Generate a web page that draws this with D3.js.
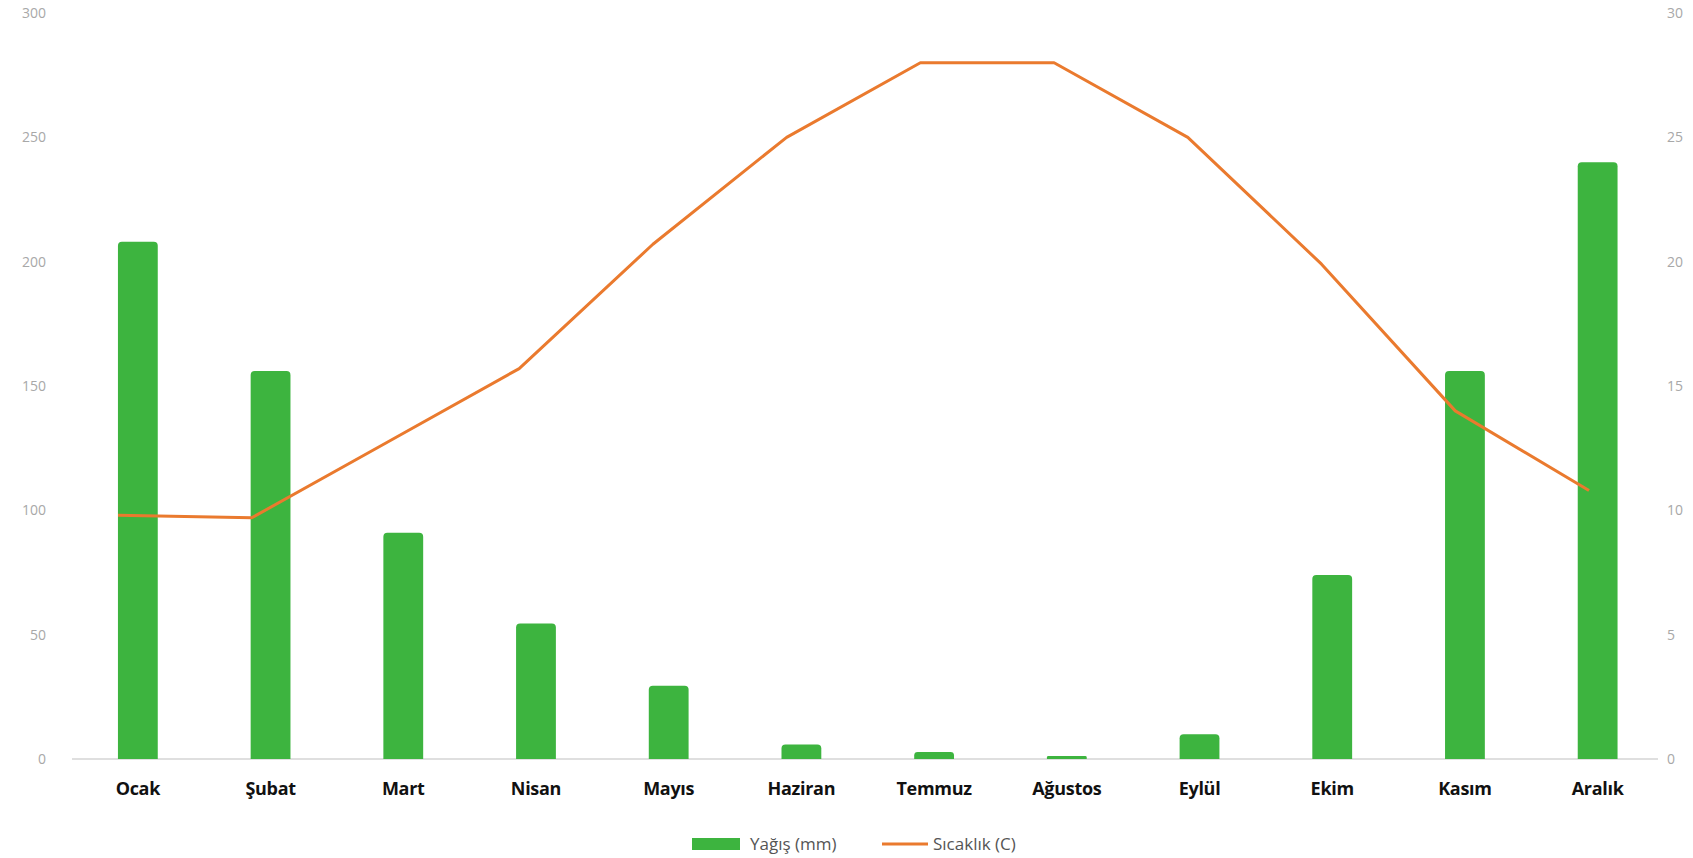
<!DOCTYPE html>
<html>
<head>
  <meta charset="UTF-8">
  <style>
body {
    margin: 0;
    background: #fff;
}
svg {
    display: block;
    font-family: 'Open Sans', sans-serif;
}
.tick-left text, .tick-right text {
    fill: #a8a8a8;
    font-size: 14px;
}
.month {
    font-weight: 700;
    font-size: 18px;
    fill: #111;
    letter-spacing: -0.3px;
}
.legend text {
    font-size: 17px;
    fill: #555;
}
  </style>
</head>
<body>
<svg id="chart"></svg>

<script src="https://d3js.org/d3.v7.min.js"></script>
<script>

let width = 1693, height = 858;

// data
let months = ["Ocak", "Şubat", "Mart", "Nisan", "Mayıs", "Haziran", "Temmuz", "Ağustos", "Eylül", "Ekim", "Kasım", "Aralık"];
let rain = [208, 156, 91, 54.5, 29.5, 5.8, 2.8, 1.2, 10, 74, 156, 240];
let temp = [9.8, 9.7, 12.7, 15.7, 20.7, 25, 28, 28, 25, 19.9, 14, 10.8];
let leftTicks = [0, 50, 100, 150, 200, 250, 300];
let rightTicks = [0, 5, 10, 15, 20, 25, 30];

let green = "#3db43f", orange = "#ea7a2e";

let svg = d3.select("#chart")
    .attr("width", width)
    .attr("height", height);

// scales
let x = d3.scaleBand()
    .domain(months)
    .range([71.5, 1664])
    .padding(0);

// the line in the original sits a little left of the bar centres
let xLine = d3.scalePoint()
    .domain(months)
    .range([118, 1589]);

let yLeft = d3.scaleLinear().domain([0, 300]).range([759, 13]);
let yRight = d3.scaleLinear().domain([0, 30]).range([759, 13]);

// left tick labels
svg.append("g")
    .attr("class", "tick-left")
    .selectAll("text")
    .data(leftTicks)
    .enter()
    .append("text")
    .attr("x", 46)
    .attr("y", d => yLeft(d))
    .attr("dy", "0.35em")
    .attr("text-anchor", "end")
    .text(d => d);

// right tick labels
svg.append("g")
    .attr("class", "tick-right")
    .selectAll("text")
    .data(rightTicks)
    .enter()
    .append("text")
    .attr("x", 1667)
    .attr("y", d => yRight(d))
    .attr("dy", "0.35em")
    .attr("text-anchor", "start")
    .text(d => d);

// baseline
svg.append("line")
    .attr("x1", 72)
    .attr("x2", 1658)
    .attr("y1", yLeft(0))
    .attr("y2", yLeft(0))
    .style("stroke", "#d4d4d4")
    .style("stroke-width", 1.5);

// bars with rounded tops
let barW = x.bandwidth() * 0.3;
function barPath(d, i) {
    let cx = x(months[i]) + x.bandwidth() / 2;
    let x0 = cx - barW / 2, x1 = cx + barW / 2;
    let y0 = yLeft(0), y1 = yLeft(d);
    let r = Math.min(4, (y0 - y1) / 2);
    return "M" + x0 + "," + y0 +
        "V" + (y1 + r) +
        "Q" + x0 + "," + y1 + " " + (x0 + r) + "," + y1 +
        "H" + (x1 - r) +
        "Q" + x1 + "," + y1 + " " + x1 + "," + (y1 + r) +
        "V" + y0 + "Z";
}

svg.append("g")
    .selectAll("path")
    .data(rain)
    .enter()
    .append("path")
    .attr("d", barPath)
    .style("fill", green);

// temperature line
let line = d3.line()
    .x((d, i) => xLine(months[i]))
    .y(d => yRight(d));

svg.append("path")
    .datum(temp)
    .attr("d", line)
    .style("fill", "none")
    .style("stroke", orange)
    .style("stroke-width", 3)
    .style("stroke-linejoin", "round");

// month labels
svg.append("g")
    .selectAll("text")
    .data(months)
    .enter()
    .append("text")
    .attr("class", "month")
    .attr("x", d => x(d) + x.bandwidth() / 2)
    .attr("y", 789)
    .attr("dy", "0.35em")
    .attr("text-anchor", "middle")
    .text(d => d);

// legend
let legend = svg.append("g").attr("class", "legend");

legend.append("rect")
    .attr("x", 692)
    .attr("y", 838)
    .attr("width", 48)
    .attr("height", 12)
    .style("fill", green);

legend.append("text")
    .attr("x", 750)
    .attr("y", 844)
    .attr("dy", "0.35em")
    .text("Yağış (mm)");

legend.append("line")
    .attr("x1", 882)
    .attr("x2", 928)
    .attr("y1", 844)
    .attr("y2", 844)
    .style("stroke", orange)
    .style("stroke-width", 3);

legend.append("text")
    .attr("x", 933)
    .attr("y", 844)
    .attr("dy", "0.35em")
    .text("Sıcaklık (C)");

</script>

</body>
</html>
